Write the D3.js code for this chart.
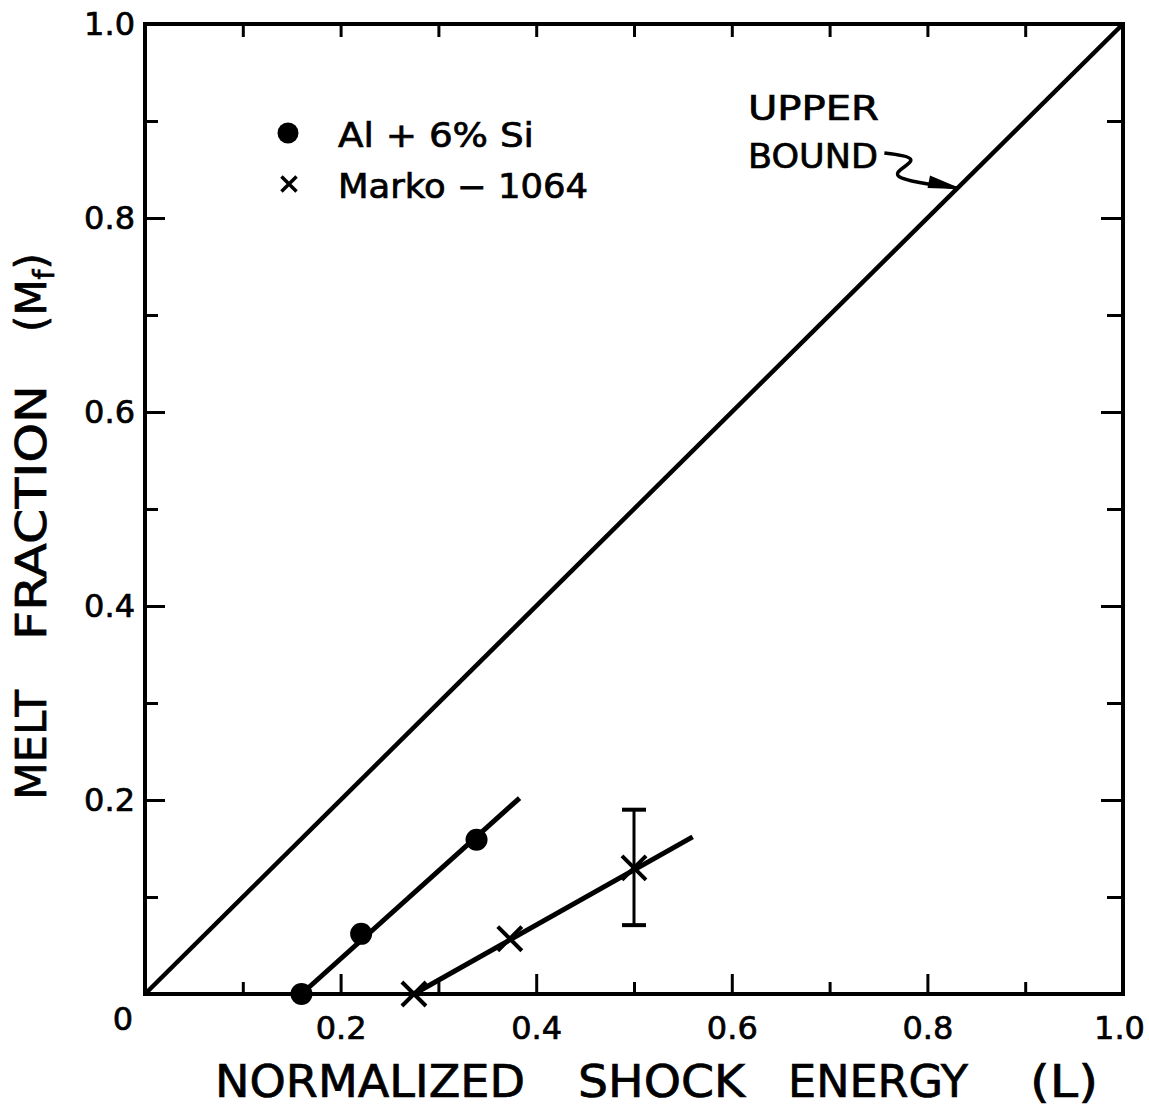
<!DOCTYPE html>
<html>
<head>
<meta charset="utf-8">
<script src="https://cdn.jsdelivr.net/npm/d3@7"></script>
<style>
  html, body { margin: 0; padding: 0; background: #fff; }
  svg { display: block; font-family: "DejaVu Sans", "Noto Sans", sans-serif; }
  svg text { fill: #000; stroke: #000; stroke-width: 0.7px; }
  .axis path.domain { display: none; }
  .axis line { stroke: #000; stroke-width: 3; }
  .axis text { font-size: 32px; font-family: "DejaVu Sans", sans-serif; }
</style>
</head>
<body>
<svg id="chart" width="1149" height="1108"></svg>
<script>
// Melt fraction vs. normalized shock energy
const majorTicks = [0.2, 0.4, 0.6, 0.8, 1.0];
const minorTicks = [0.1, 0.3, 0.5, 0.7, 0.9];

// Al + 6% Si measurements and their fitted line
const alSi = [
  { x: 0.160, y: 0.000 },
  { x: 0.221, y: 0.062 },
  { x: 0.339, y: 0.159 }
];
const alSiFit = [[0.160, 0.000], [0.383, 0.202]];

// Marko-1064 measurements and their fitted line
const marko = [
  { x: 0.275, y: 0.000 },
  { x: 0.373, y: 0.057 },
  { x: 0.500, y: 0.130 }
];
const markoFit = [[0.275, 0.000], [0.560, 0.162]];
const markoErr = [{ x: 0.500, lo: 0.071, hi: 0.190 }];

// Upper bound: melt fraction equals normalized energy
const upperBound = [[0, 0], [1, 1]];

// Leader from the "UPPER BOUND" note to the diagonal (data units)
const leader = [[0.756, 0.867], [0.795, 0.862], [0.762, 0.846], [0.778, 0.838], [0.830, 0.831]];

const svg = d3.select("#chart");
const plotL = 145, plotR = 1123, plotT = 24, plotB = 994;

const x = d3.scaleLinear().domain([0, 1]).range([plotL, plotR]);
const y = d3.scaleLinear().domain([0, 1]).range([plotB, plotT]);

// Inward ticks on all four sides
const fmt = d3.format(".1f");
function addAxis(gen, transform, values, size, labels, pad) {
  const g = svg.append("g").attr("class", "axis").attr("transform", transform);
  g.call(gen.tickValues(values).tickSize(size).tickPadding(pad)
            .tickFormat(labels ? fmt : () => ""));
  return g;
}
const xLab = addAxis(d3.axisBottom(x), `translate(0,${plotB})`, majorTicks, -20, true, 22);
xLab.selectAll("text").filter(d => d === 1).attr("dx", -4);
addAxis(d3.axisBottom(x), `translate(0,${plotB})`, minorTicks, -12, false, 0);
addAxis(d3.axisTop(x), `translate(0,${plotT})`, majorTicks.concat(minorTicks), -13, false, 0);
addAxis(d3.axisLeft(y), `translate(${plotL},0)`, majorTicks, -20, true, 10);
addAxis(d3.axisLeft(y), `translate(${plotL},0)`, minorTicks, -13, false, 0);
addAxis(d3.axisRight(y), `translate(${plotR},0)`, majorTicks, -22, false, 0);
addAxis(d3.axisRight(y), `translate(${plotR},0)`, minorTicks, -16, false, 0);

// Shared origin label
svg.append("text").attr("x", x(0) - 22).attr("y", y(0) + 36)
  .attr("text-anchor", "middle").attr("font-size", 32).text("0");

// Frame
svg.append("rect").attr("x", plotL).attr("y", plotT)
  .attr("width", plotR - plotL).attr("height", plotB - plotT)
  .attr("fill", "none").attr("stroke", "#000").attr("stroke-width", 4);

const line = d3.line().x(d => x(d[0])).y(d => y(d[1]));

svg.append("path").datum(upperBound).attr("d", line)
  .attr("fill", "none").attr("stroke", "#000").attr("stroke-width", 4.5);
svg.append("path").datum(alSiFit).attr("d", line)
  .attr("fill", "none").attr("stroke", "#000").attr("stroke-width", 5);
svg.append("path").datum(markoFit).attr("d", line)
  .attr("fill", "none").attr("stroke", "#000").attr("stroke-width", 5);

// Error bar on the Marko-1064 point
const eb = svg.append("g").selectAll("g").data(markoErr).join("g")
  .attr("stroke", "#000").attr("stroke-width", 3);
eb.append("line").attr("x1", d => x(d.x)).attr("x2", d => x(d.x))
  .attr("y1", d => y(d.lo)).attr("y2", d => y(d.hi));
eb.append("line").attr("x1", d => x(d.x) - 12).attr("x2", d => x(d.x) + 12)
  .attr("y1", d => y(d.hi)).attr("y2", d => y(d.hi)).attr("stroke-width", 4);
eb.append("line").attr("x1", d => x(d.x) - 12).attr("x2", d => x(d.x) + 12)
  .attr("y1", d => y(d.lo)).attr("y2", d => y(d.lo)).attr("stroke-width", 4);

// Markers
svg.append("g").selectAll("circle").data(alSi).join("circle")
  .attr("cx", d => x(d.x)).attr("cy", d => y(d.y)).attr("r", 11).attr("fill", "#000");

const cross = d3.symbol().type(d3.symbolX).size(380);
svg.append("g").selectAll("path").data(marko).join("path")
  .attr("transform", d => `translate(${x(d.x)},${y(d.y)})`)
  .attr("d", cross).attr("fill", "none").attr("stroke", "#000").attr("stroke-width", 4);

// Legend
svg.append("circle").attr("cx", 288).attr("cy", 133).attr("r", 10.5).attr("fill", "#000");
svg.append("path").attr("transform", "translate(289,184)")
  .attr("d", d3.symbol().type(d3.symbolX).size(150))
  .attr("fill", "none").attr("stroke", "#000").attr("stroke-width", 3.5);
svg.append("text").attr("x", 338).attr("y", 147).attr("font-size", 33)
  .attr("textLength", 196).attr("lengthAdjust", "spacingAndGlyphs").text("Al + 6% Si");
svg.append("text").attr("x", 338).attr("y", 198).attr("font-size", 33)
  .attr("textLength", 250).attr("lengthAdjust", "spacingAndGlyphs").text("Marko − 1064");

// Upper bound note
svg.append("text").attr("x", 748).attr("y", 120).attr("font-size", 33)
  .attr("textLength", 131).attr("lengthAdjust", "spacingAndGlyphs").text("UPPER");
svg.append("text").attr("x", 748).attr("y", 168).attr("font-size", 33)
  .attr("textLength", 130).attr("lengthAdjust", "spacingAndGlyphs").text("BOUND");
svg.append("path").datum(leader)
  .attr("d", d3.line().x(d => x(d[0])).y(d => y(d[1])).curve(d3.curveBasis))
  .attr("fill", "none").attr("stroke", "#000").attr("stroke-width", 3.5);
const tip = leader[leader.length - 1];
svg.append("path")
  .attr("d", `M${x(tip[0]) - 26},${y(tip[1]) - 11} L${x(tip[0])},${y(tip[1])} L${x(tip[0]) - 28},${y(tip[1]) - 1}Z`)
  .attr("fill", "#000").attr("stroke", "#000").attr("stroke-width", 2);

// X-axis title
const xWords = [["NORMALIZED", 215, 310], ["SHOCK", 578, 167], ["ENERGY", 788, 180], ["(L)", 1030, 68]];
svg.append("g").selectAll("text").data(xWords).join("text")
  .attr("x", d => d[1]).attr("y", 1097).attr("font-size", 44)
  .attr("textLength", d => d[2]).attr("lengthAdjust", "spacingAndGlyphs")
  .text(d => d[0]);

// Y-axis title (rotated)
const yTitle = svg.append("g").attr("transform", "translate(46,0) rotate(-90)");
yTitle.append("text").attr("x", -800).attr("y", 0).attr("font-size", 42)
  .attr("textLength", 110).attr("lengthAdjust", "spacingAndGlyphs").text("MELT");
yTitle.append("text").attr("x", -640).attr("y", 0).attr("font-size", 42)
  .attr("textLength", 255).attr("lengthAdjust", "spacingAndGlyphs").text("FRACTION");
const mf = yTitle.append("text").attr("x", -332).attr("y", 0).attr("font-size", 42);
mf.append("tspan").text("(M");
mf.append("tspan").attr("font-size", 28).attr("dy", 8).text("f");
mf.append("tspan").attr("dy", -8).text(")");
</script>
</body>
</html>
